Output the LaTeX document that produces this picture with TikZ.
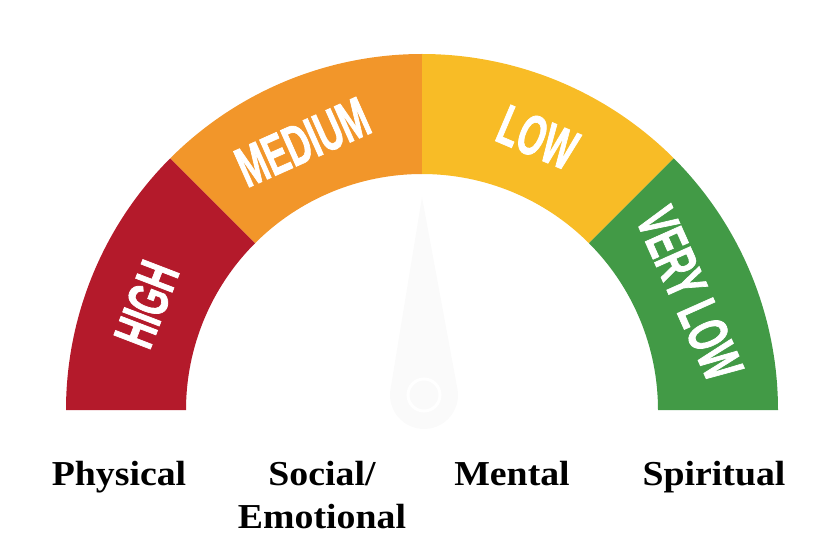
\documentclass[tikz,border=0pt]{standalone}
\usepackage{fontspec}
\setmainfont{Liberation Serif}
\setsansfont{Liberation Sans}
\newfontfamily\bandfont{Liberation Sans}[FakeStretch=0.6, FakeBold=1.2]
\newfontfamily\labelfont{Liberation Serif}[FakeStretch=1.08]
\usetikzlibrary{calc}

\definecolor{highred}{RGB}{180,26,43}
\definecolor{mediumorange}{RGB}{242,150,42}
\definecolor{lowyellow}{RGB}{248,188,38}
\definecolor{verylowgreen}{RGB}{66,154,70}
\definecolor{needlegrey}{RGB}{250,250,250}

\tikzset{
  band text/.style = {text=white, inner sep=0pt,
                      font=\bandfont\bfseries\fontsize{57}{57}\selectfont},
  dimension/.style = {anchor=base, inner sep=0pt, align=center,
                      font=\labelfont\bfseries\fontsize{35}{43}\selectfont},
}

\begin{document}
\begin{tikzpicture}[x = 1pt, y = 1pt]
    \useasboundingbox (0,0) rectangle (814,558);
    \coordinate (centre)     at (422,148);
    \coordinate (tip)        at (422,361);
    \coordinate (needlebase) at (424,163);

    % coloured bands of the dial
    \fill[highred]      ($(centre)+(180:356)$) arc[start angle=180, end angle=135, radius=356]
                     -- ($(centre)+(135:236)$) arc[start angle=135, end angle=180, radius=236] -- cycle;
    \fill[mediumorange] ($(centre)+(135:356)$) arc[start angle=135, end angle=90, radius=356]
                     -- ($(centre)+(90:236)$)  arc[start angle=90, end angle=135, radius=236] -- cycle;
    \fill[lowyellow]    ($(centre)+(90:356)$)  arc[start angle=90, end angle=45, radius=356]
                     -- ($(centre)+(45:236)$)  arc[start angle=45, end angle=90, radius=236] -- cycle;
    \fill[verylowgreen] ($(centre)+(45:356)$)  arc[start angle=45, end angle=0, radius=356]
                     -- ($(centre)+(0:236)$)   arc[start angle=0, end angle=45, radius=236] -- cycle;

    % faint needle
    \fill[needlegrey] (tip) -- ($(needlebase)+(10:34)$) arc[start angle=10, end angle=-190, radius=34] -- cycle;
    \draw[white, line width=3pt] (needlebase) circle (16);

    \node[band text, rotate=69]  (high)    at ($(centre)+(159:295)$)  {HIGH};
    \node[band text, rotate=24]  (medium)  at ($(centre)+(114:293)$)  {MEDIUM};
    \node[band text, rotate=-23] (low)     at ($(centre)+(67:296)$)   {LOW};
    \node[band text, rotate=-66] (verylow) at ($(centre)+(23.5:292)$) {VERY LOW};

    \node[dimension] (physical)  at (119,73) {Physical};
    \node[dimension] (social)    at (322,30) {Social/\\Emotional};
    \node[dimension] (mental)    at (512,73) {Mental};
    \node[dimension] (spiritual) at (714,73) {Spiritual};
\end{tikzpicture}
\end{document}
